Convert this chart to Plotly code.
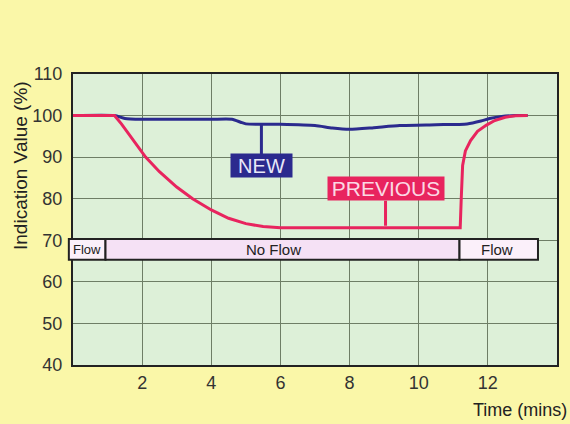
import plotly.graph_objects as go

# PREVIOUS sensor (red)
prev_t = [0, 1.2, 1.4, 1.7, 2.1, 2.5, 3.0, 3.46, 4.0, 4.5, 5.0, 5.5, 6.0, 8.0, 10.0, 11.2,
          11.23, 11.27, 11.35, 11.5, 11.7, 11.96, 12.2, 12.5, 12.8, 13.15]
prev_v = [100, 100, 98, 94.5, 90, 86.5, 82.8, 80, 77.3, 75.3, 74.0, 73.3, 73.0, 73.0, 73.0, 73.0,
          80, 88, 91.5, 94, 96.2, 97.7, 98.8, 99.6, 99.95, 100]

# NEW sensor (blue)
new_t = [0, 1.2, 1.5, 2.0, 3.0, 4.0, 4.6, 4.85, 5.0, 6.0, 7.0, 7.5, 8.0, 8.7, 9.45, 10.5, 11.4, 11.8, 12.05, 12.4, 12.8, 13.15]
new_v = [100, 100, 99.3, 99.1, 99.1, 99.1, 99.1, 98.4, 98.0, 97.9, 97.6, 97.0, 96.7, 97.1, 97.6, 97.8, 98.0, 98.7, 99.3, 99.8, 100, 100]

# Flow state bar
flow_start = [-0.12, 0.94, 11.18]
flow_end = [0.94, 11.18, 13.45]
flow_label = ["Flow", "No Flow", "Flow"]
flow_label_x = [0.4, 5.8, 12.26]
flow_fill = ["#FBF0FA", "#F5E1F5", "#FBF0FA"]
flow_font = [13, 15, 15]
bar_lo, bar_hi = 65.3, 70.3

x_ticks = [2, 4, 6, 8, 10, 12]
y_ticks = [40, 50, 60, 70, 80, 90, 100, 110]
X_MIN, X_MAX = 0, 14

RED = "#E8245E"
BLUE = "#2B2A8E"
BG = "#FAF7A8"
FONT = "Liberation Sans, Arial, sans-serif"

fig = go.Figure()
fig.add_trace(go.Scatter(x=new_t, y=new_v, mode="lines", line=dict(color=BLUE, width=3, shape="spline", smoothing=0.6), hoverinfo="skip"))
fig.add_trace(go.Scatter(x=prev_t, y=prev_v, mode="lines", line=dict(color=RED, width=3), hoverinfo="skip"))

shapes = []
for s, e, f in zip(flow_start, flow_end, flow_fill):
    shapes.append(dict(type="rect", xref="paper", yref="y",
                       x0=(s - X_MIN) / (X_MAX - X_MIN), x1=(e - X_MIN) / (X_MAX - X_MIN),
                       y0=bar_lo, y1=bar_hi,
                       fillcolor=f, line=dict(color="#222222", width=2), layer="above"))
annotations = []
for lx, lab, fs in zip(flow_label_x, flow_label, flow_font):
    annotations.append(dict(x=lx, y=(bar_lo + bar_hi) / 2, xref="x", yref="y", text=lab,
                            showarrow=False, font=dict(size=fs, color="#222222", family=FONT)))

annotations.append(dict(x=5.45, y=98.0, xref="x", yref="y", text="NEW", showarrow=True, arrowhead=0,
                        arrowwidth=3, arrowcolor=BLUE, ax=0, ay=42, bgcolor=BLUE, borderpad=1,
                        width=59, height=21,
                        font=dict(size=20, color="#E8E8F8", family=FONT)))
annotations.append(dict(x=9.04, y=73.5, xref="x", yref="y", text="PREVIOUS", showarrow=True, arrowhead=0,
                        arrowwidth=3, arrowcolor=RED, ax=0, ay=-37, bgcolor=RED, borderpad=1,
                        width=114, height=21,
                        font=dict(size=21, color="#FBD8E4", family=FONT)))
annotations.append(dict(x=1.0, y=0, xref="paper", yref="paper", xanchor="right", yanchor="middle",
                        xshift=12, yshift=-45, text="Time (mins)", showarrow=False,
                        font=dict(size=18, color="#222222", family=FONT)))
annotations.append(dict(x=0, y=1, xref="paper", yref="paper", xanchor="center", yanchor="middle",
                        xshift=-53, yshift=-92, textangle=-90, text="Indication Value (%)", showarrow=False,
                        font=dict(size=19, color="#222222", family=FONT)))

fig.update_layout(
    width=570, height=424,
    margin=dict(l=73, r=13, t=74, b=59, autoexpand=False),
    paper_bgcolor=BG,
    plot_bgcolor="#DDF0D8",
    showlegend=False,
    shapes=shapes,
    annotations=annotations,
    font=dict(family=FONT, color="#333333"),
)
fig.update_xaxes(range=[X_MIN, X_MAX], tickvals=x_ticks, ticktext=[str(v) for v in x_ticks],
                 showgrid=True, gridcolor="#6E7E66", gridwidth=1, zeroline=False,
                 showline=True, linecolor="#222222", linewidth=2, mirror=True, automargin=False,
                 tickfont=dict(size=18, color="#333333"), ticks="")
fig.update_yaxes(range=[40, 110], tickvals=y_ticks, ticktext=[str(v) for v in y_ticks],
                 showgrid=True, gridcolor="#6E7E66", gridwidth=1, zeroline=False,
                 showline=True, linecolor="#222222", linewidth=2, mirror=True, automargin=False,
                 tickfont=dict(size=18, color="#333333"), ticks="", ticklabelstandoff=5)

fig.write_html("out.html", config={"displayModeBar": False},
               post_script="document.body.style.margin='0';document.body.style.background='" + BG + "';")
